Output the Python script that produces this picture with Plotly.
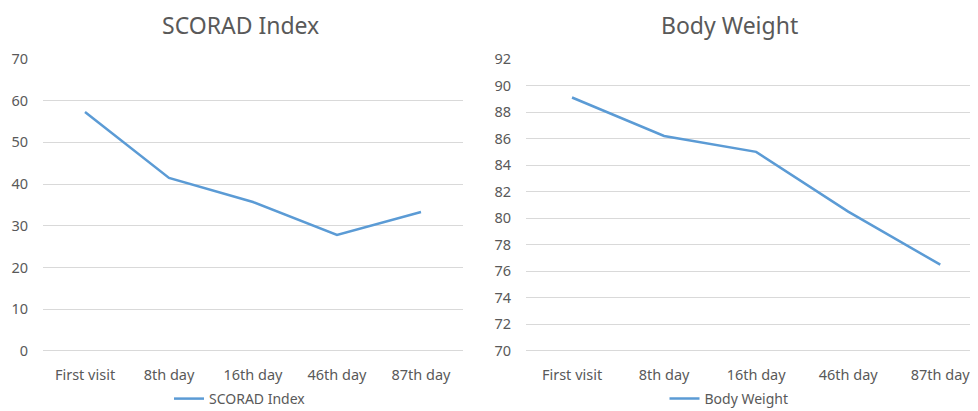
import plotly.graph_objects as go

categories = ["First visit", "8th day", "16th day", "46th day", "87th day"]
scorad = [57.3, 41.5, 35.7, 27.8, 33.3]
weight = [89.1, 86.2, 85.0, 80.5, 76.5]

OFF = 8  # page body margin in the viewer
W, H = 978 - OFF, 411 - OFF
LINE = "#5B9BD5"
GRID = "#D9D9D9"
TXT = "#595959"
FONT = "Noto Sans"


def px_x(x):
    return (x - OFF) / W


def px_y(y):
    return 1 - (y - OFF) / H


fig = go.Figure()
fig.add_trace(go.Scatter(x=categories, y=scorad, mode="lines", name="SCORAD Index",
                         line=dict(color=LINE, width=2.5), xaxis="x", yaxis="y", legend="legend"))
fig.add_trace(go.Scatter(x=categories, y=weight, mode="lines", name="Body Weight",
                         line=dict(color=LINE, width=2.5), xaxis="x2", yaxis="y2", legend="legend2"))

ydom = [px_y(352), px_y(59)]
common_x = dict(showgrid=False, showline=False, zeroline=False, ticks="", automargin=False,
                ticklabelstandoff=12,
                tickfont=dict(size=14.5, color=TXT, family=FONT), type="category")
common_y = dict(showgrid=True, gridcolor=GRID, gridwidth=1, showline=False, zeroline=False,
                ticks="", automargin=False, ticklabelstandoff=14,
                tickfont=dict(size=14.5, color=TXT, family=FONT))

legend_common = dict(yref="container", xref="container", y=px_y(399), xanchor="center",
                     yanchor="middle", orientation="h",
                     font=dict(size=14, color=TXT, family=FONT),
                     bgcolor="rgba(0,0,0,0)", itemwidth=30)

fig.update_layout(
    template="none",
    width=W, height=H,
    margin=dict(l=0, r=0, t=0, b=0, autoexpand=False),
    paper_bgcolor="white", plot_bgcolor="white",
    font=dict(family=FONT, color=TXT),
    xaxis=dict(domain=[px_x(43), px_x(463)], anchor="y", range=[-0.5, 4.5], **common_x),
    yaxis=dict(domain=ydom, anchor="x", range=[-0.25, 70], dtick=10, **common_y),
    xaxis2=dict(domain=[px_x(526), 1.0], anchor="y2", range=[-0.5, 4.41], **common_x),
    yaxis2=dict(domain=ydom, anchor="x2", range=[69.92, 92], dtick=2, **common_y),
    legend=dict(x=px_x(240), **legend_common),
    legend2=dict(x=px_x(729), **legend_common),
    showlegend=True,
    annotations=[
        dict(text="SCORAD Index", x=px_x(240), y=px_y(25), xref="paper", yref="paper",
             showarrow=False, xanchor="center", yanchor="middle",
             font=dict(size=23, color=TXT, family=FONT)),
        dict(text="Body Weight", x=px_x(729), y=px_y(25), xref="paper", yref="paper",
             showarrow=False, xanchor="center", yanchor="middle",
             font=dict(size=23, color=TXT, family=FONT)),
    ],
)

fig.write_html("out.html")
